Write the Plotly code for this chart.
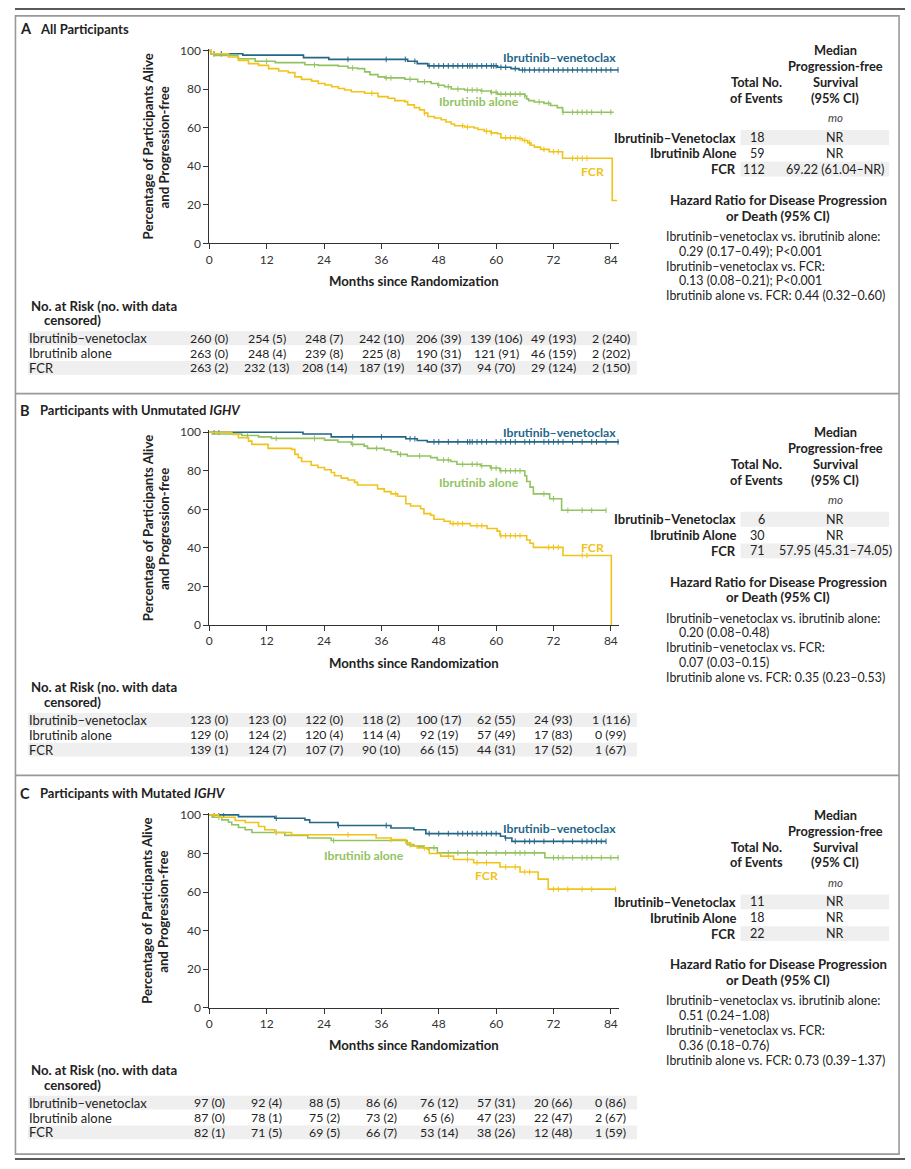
import numpy as np
import plotly.graph_objects as go

W, H = 911, 1169
FONT = "Lato"
DARK = "#222222"
C_IV = "#246687"
C_I = "#92c35f"
C_F = "#f1c31a"
BAND = "#efefef"

# ---------------- data ----------------
months_ticks = [0, 12, 24, 36, 48, 60, 72, 84]
y_ticks = [0, 20, 40, 60, 80, 100]
arm_names_risk = ["Ibrutinib–venetoclax", "Ibrutinib alone", "FCR"]
arm_names_tab = ["Ibrutinib–Venetoclax", "Ibrutinib Alone", "FCR"]

# Panel A: all participants
A_IV_t = [0, 0.4, 7, 19.7, 25, 41.5, 43.5, 45.7, 60.3, 63.1, 64.8, 85.6]
A_IV_s = [100, 98.3, 97.6, 96.3, 95.4, 94.4, 93.2, 92.0, 91.3, 90.6, 89.9, 89.9]
A_I_t = [0, 0.4, 1.3, 6, 9.6, 13.8, 20, 22.8, 27, 29, 31, 32.5, 33.6, 35.3, 36.7, 40.9, 43.6, 46.4,
         47.8, 49.2, 50.6, 53.4, 56.8, 58.9, 60.3, 66.0, 66.4, 66.8, 68, 70, 71.4, 72.8, 73.9, 84.6]
A_I_s = [100, 98.3, 97.4, 95.7, 94.4, 93.7, 92.6, 92.3, 91.8, 90.9, 90.6, 88.9, 87.5, 86.3, 85.8, 85.1,
         83.8, 82.9, 82.0, 81.2, 80.0, 79.5, 79.0, 78.3, 77.4, 76.4, 74.9, 74.0, 73.3, 72.6, 71.5, 70.4,
         68.0, 68.0]
A_F_t = [0, 0.4, 4, 6.1, 8.2, 10.3, 12.4, 14.5, 16.5, 17.9, 19.3, 21.4, 22.8, 24.2, 25.6, 27, 28.3,
         29.7, 32.5, 35.3, 37.4, 38.8, 40.9, 41.5, 42.9, 44, 45, 45.7, 47.1, 48.5, 49.5, 50.6, 51.3, 53.4,
         55.4, 56.2, 57.5, 58.9, 60.3, 61, 64.5, 65.5, 66.6, 67.3, 68, 69.3, 71.1, 73.9, 84.3, 85.3]
A_F_s = [100, 98.3, 96.6, 94.9, 93.2, 92.3, 90.6, 89.4, 88.5, 86.3, 85.0, 84.1, 82.9, 82.1, 81.2, 80.3,
         79.5, 78.6, 77.8, 76.1, 75.2, 74.0, 73.5, 71.8, 70.4, 69.2, 67.5, 65.8, 65.0, 64.1, 62.9, 61.9,
         61.0, 60.3, 59.8, 59.0, 58.1, 57.3, 56.8, 54.7, 54.4, 53.3, 52.1, 50.9, 49.9, 48.7, 47.5, 44.1,
         22.2, 22.2]
A_IV_cens = [1, 2.5, 29, 37, 41, 43, 46, 47, 48, 49, 50, 51, 52, 53, 54, 54.5, 55, 56, 57, 58, 59, 59.5,
             60, 61, 62, 64, 65.5, 66, 67, 68, 69, 70, 71, 72, 73, 74, 75, 76, 77, 78, 79, 80, 81, 82, 83,
             84, 85.5]
A_I_cens = [1, 12, 22, 30, 37, 38, 42, 45, 48, 50, 52, 54, 55, 56, 57, 59, 60, 61, 62, 63, 64, 65, 66,
            69, 71, 74, 76, 77, 78, 79, 80, 82, 84]
A_F_cens = [34, 45, 53, 54, 58, 59, 62, 63, 64, 65, 66, 67, 70, 72, 73, 76, 77, 78, 79]

# Panel B: unmutated IGHV
B_IV_t = [0, 19.6, 25.5, 41.1, 43.5, 45.6, 85.8]
B_IV_s = [100, 99.1, 97.6, 96.6, 95.7, 95.0, 95.0]
B_I_t = [0, 0.6, 6.8, 10.3, 13, 24.1, 26.9, 29.7, 32.4, 33.1, 36.6, 38, 39.4, 41.4, 46.3, 47.7, 50.5,
         51.8, 56.7, 58.8, 60.8, 66.0, 66.4, 67.1, 67.8, 71.2, 73.7, 83.0]
B_I_s = [100, 99.1, 98.3, 97.6, 96.8, 95.9, 94.9, 93.7, 92.8, 91.6, 90.8, 89.9, 88.5, 87.7, 86.8, 85.6,
         84.8, 83.4, 82.6, 81.4, 80.0, 77.4, 74.4, 71.5, 68.0, 65.5, 59.5, 59.5]
B_F_t = [0, 4.7, 6.1, 8.2, 8.9, 12.3, 17.2, 17.9, 18.6, 19.3, 21.3, 22.7, 24.1, 25.5, 26.2, 27.6, 29,
         30.4, 31, 35.2, 36.6, 38, 39.4, 41.1, 42.1, 44.2, 44.9, 46.3, 47, 49.1, 50.4, 54.6, 58.1, 60.2,
         60.8, 66.4, 67.1, 67.8, 74, 84.1]
B_F_s = [100, 98.8, 97.1, 95.4, 93.7, 91.6, 91.1, 88.5, 86.8, 84.8, 82.9, 81.7, 80.5, 79.1, 77.4, 76.2,
         75.2, 74.0, 72.6, 70.6, 69.2, 68.0, 66.8, 62.9, 61.7, 60.3, 57.8, 56.9, 54.9, 53.8, 52.6, 51.5,
         50.1, 48.7, 46.3, 44.1, 42.4, 40.3, 36.1, 0]
B_IV_cens = [1, 2, 30, 36, 42, 43, 47, 48, 50, 52, 54, 54.5, 55, 56, 57, 58, 60, 61, 62, 63, 64, 66, 67,
             68, 70, 71, 72, 73, 74, 76, 78, 80, 81, 83, 85.5]
B_I_cens = [8, 14, 22, 30, 35, 40, 44, 49, 50, 53, 55, 56, 57, 59, 60, 61, 62, 63, 64, 65, 70, 72, 75,
            78, 80, 83]
B_F_cens = [39, 51, 52, 53, 56, 57, 61, 62, 63, 64, 65, 71, 72, 73, 78, 79]

# Panel C: mutated IGHV
C_IV_t = [0, 6.1, 13.7, 20, 21, 26.9, 38, 42.8, 45.3, 60.9, 61.9, 63.3, 83.0]
C_IV_s = [100, 99.1, 98.3, 97.4, 96.1, 94.5, 93.2, 92.3, 90.3, 88.9, 88.0, 86.3, 86.3]
C_I_t = [0, 0.6, 2.6, 4, 4.7, 6.1, 7.5, 8.9, 15.8, 20.6, 25.5, 41.4, 42.8, 44.9, 47.7, 70.2, 85.8]
C_I_s = [100, 98.8, 97.4, 96.2, 94.9, 93.5, 92.3, 90.9, 89.4, 88.0, 86.7, 84.6, 83.8, 82.9, 80.3, 77.8,
         77.8]
C_F_t = [0, 1.9, 5.4, 7.5, 10.3, 11.6, 13.7, 17.2, 34.9, 38, 41.1, 42.1, 43.5, 45.6, 46, 48.4, 51.1,
         55.3, 60.8, 65, 68.8, 70.9, 85.1]
C_F_s = [100, 98.8, 97.1, 96.1, 94.0, 92.3, 90.9, 89.7, 88.0, 87.2, 85.5, 83.8, 82.9, 82.1, 80.0, 78.6,
         76.9, 75.2, 73.0, 70.4, 66.7, 61.5, 61.5]
C_IV_cens = [1, 2, 3, 14, 27, 37, 46, 48, 50, 52, 53, 54, 55, 56, 57, 58, 59, 60, 62, 64, 66, 67, 68,
             70, 72, 74, 76, 78, 79, 80, 81, 82, 83]
C_I_cens = [2, 14, 26, 42, 47, 50, 52, 54, 56, 58, 60, 62, 64, 65, 66, 68, 72, 73, 74, 76, 78, 79, 80,
            82, 84, 85.5]
C_F_cens = [1, 29, 38, 45, 50, 54, 56, 58, 62, 64, 66, 67, 72, 73, 75, 78, 80, 85]

# numbers at risk / censored
A_risk = [[260, 254, 248, 242, 206, 139, 49, 2],
          [263, 248, 239, 225, 190, 121, 46, 2],
          [263, 232, 208, 187, 140, 94, 29, 2]]
A_cens_n = [[0, 5, 7, 10, 39, 106, 193, 240],
            [0, 4, 8, 8, 31, 91, 159, 202],
            [2, 13, 14, 19, 37, 70, 124, 150]]
B_risk = [[123, 123, 122, 118, 100, 62, 24, 1],
          [129, 124, 120, 114, 92, 57, 17, 0],
          [139, 124, 107, 90, 66, 44, 17, 1]]
B_cens_n = [[0, 0, 0, 2, 17, 55, 93, 116],
            [0, 2, 4, 4, 19, 49, 83, 99],
            [1, 7, 7, 10, 15, 31, 52, 67]]
C_risk = [[97, 92, 88, 86, 76, 57, 20, 0],
          [87, 78, 75, 73, 65, 47, 22, 2],
          [82, 71, 69, 66, 53, 38, 12, 1]]
C_cens_n = [[0, 4, 5, 6, 12, 31, 66, 86],
            [0, 1, 2, 2, 6, 23, 47, 67],
            [1, 5, 5, 7, 14, 26, 48, 59]]

A_events = [18, 59, 112]
A_median = ["NR", "NR", "69.22 (61.04–NR)"]
B_events = [6, 30, 71]
B_median = ["NR", "NR", "57.95 (45.31–74.05)"]
C_events = [11, 18, 22]
C_median = ["NR", "NR", "NR"]

A_hr = ["Ibrutinib–venetoclax vs. ibrutinib alone:", "0.29 (0.17–0.49); P&lt;0.001",
        "Ibrutinib–venetoclax vs. FCR:", "0.13 (0.08–0.21); P&lt;0.001",
        "Ibrutinib alone vs. FCR: 0.44 (0.32–0.60)"]
B_hr = ["Ibrutinib–venetoclax vs. ibrutinib alone:", "0.20 (0.08–0.48)",
        "Ibrutinib–venetoclax vs. FCR:", "0.07 (0.03–0.15)",
        "Ibrutinib alone vs. FCR: 0.35 (0.23–0.53)"]
C_hr = ["Ibrutinib–venetoclax vs. ibrutinib alone:", "0.51 (0.24–1.08)",
        "Ibrutinib–venetoclax vs. FCR:", "0.36 (0.18–0.76)",
        "Ibrutinib alone vs. FCR: 0.73 (0.39–1.37)"]

titles = ["All Participants", "Participants with Unmutated <i>IGHV</i>",
          "Participants with Mutated <i>IGHV</i>"]
letters = ["A", "B", "C"]

panels = [
    dict(curves=[(A_IV_t, A_IV_s, A_IV_cens), (A_I_t, A_I_s, A_I_cens), (A_F_t, A_F_s, A_F_cens)],
         risk=A_risk, cens=A_cens_n, events=A_events, median=A_median, hr=A_hr,
         labels=[(503, 52), (438, 97), (581, 167)]),
    dict(curves=[(B_IV_t, B_IV_s, B_IV_cens), (B_I_t, B_I_s, B_I_cens), (B_F_t, B_F_s, B_F_cens)],
         risk=B_risk, cens=B_cens_n, events=B_events, median=B_median, hr=B_hr,
         labels=[(503, 431), (438, 482), (581, 548)]),
    dict(curves=[(C_IV_t, C_IV_s, C_IV_cens), (C_I_t, C_I_s, C_I_cens), (C_F_t, C_F_s, C_F_cens)],
         risk=C_risk, cens=C_cens_n, events=C_events, median=C_median, hr=C_hr,
         labels=[(503, 832), (323, 859), (475, 879)]),
]
offsets = [0, 386, 773]
colors = [C_IV, C_I, C_F]
curve_labels = ["Ibrutinib–venetoclax", "Ibrutinib alone", "FCR"]

# ---------------- helpers ----------------
def px(x):
    return x / W

def py(y):
    return 1 - y / H

annotations = []
shapes = []

def ann(x, y, text, size=12, color=DARK, xanchor="left", yanchor="middle", angle=0, xref="paper"):
    if xanchor == "left" and xref == "paper":
        x = x - 2
    annotations.append(dict(
        x=px(x) if xref == "paper" else x, y=py(y), xref=xref, yref="paper", text=text,
        showarrow=False, xanchor=xanchor, yanchor=yanchor, textangle=angle,
        font=dict(family=FONT, size=size, color=color), borderpad=0, borderwidth=0))

def hline(x0, x1, y, color, width):
    shapes.append(dict(type="line", xref="paper", yref="paper", x0=px(x0), x1=px(x1),
                       y0=py(y), y1=py(y), line=dict(color=color, width=width)))

def band(x0, x1, y0, y1):
    shapes.append(dict(type="rect", xref="paper", yref="paper", x0=px(x0), x1=px(x1),
                       y0=py(y1), y1=py(y0), fillcolor=BAND, line=dict(width=0), layer="below"))

fig = go.Figure()
layout_axes = {}

X0, X1 = 207, 618
XR = [0, 85.7]
YR = [0, 101]

for i, p in enumerate(panels):
    off = offsets[i]
    top = 45 + off
    bot = 240 + off
    top_ext = top - (bot - top) * 0.01
    sfx = "" if i == 0 else str(i + 1)
    xname, yname = "x" + sfx, "y" + sfx

    axis_common = dict(showline=True, linecolor="#333", linewidth=1, ticks="outside", ticklen=5,
                       tickwidth=1, tickcolor="#333", showgrid=False, zeroline=False,
                       tickfont=dict(family=FONT, size=12, color="#333"))
    layout_axes["xaxis" + sfx] = dict(domain=[px(X0), px(X1)], range=XR, anchor=yname,
                                      tickvals=months_ticks, **axis_common)
    layout_axes["yaxis" + sfx] = dict(domain=[py(bot), py(top_ext)], range=YR, anchor=xname,
                                      tickvals=y_ticks, **axis_common)

    for (t, s, cens), col in zip(p["curves"], colors):
        fig.add_trace(go.Scatter(x=t, y=s, mode="lines", line=dict(color=col, width=1.6, shape="hv"),
                                 xaxis=xname, yaxis=yname, showlegend=False, hoverinfo="skip"))
        ta = np.array(t)
        sa = np.array(s)
        idx = np.searchsorted(ta, np.array(cens), side="right") - 1
        cy = sa[np.clip(idx, 0, len(sa) - 1)]
        fig.add_trace(go.Scatter(x=cens, y=cy, mode="markers",
                                 marker=dict(symbol="line-ns-open", size=4, color=col,
                                             line=dict(width=1, color=col)),
                                 xaxis=xname, yaxis=yname, showlegend=False, hoverinfo="skip"))

    # curve labels
    for (lx, ly), col, lab in zip(p["labels"], colors, curve_labels):
        ann(lx + 1, ly, "<b>%s</b>" % lab, size=12.2, color=col)

    # panel title
    ann(19, 23 + off, "<b>%s</b>" % letters[i], size=14.5)
    ann(39, 23 + off, "<b>%s</b>" % titles[i], size=13)

    # axis titles
    ann((X0 + X1) / 2, 278 + off, "<b>Months since Randomization</b>", size=13.2, xanchor="center")
    ann(145, 142.5 + off, "<b>Percentage of Participants Alive</b>", size=13.2, xanchor="center", angle=-90)
    ann(161, 142.5 + off, "<b>and Progression-free</b>", size=13.2, xanchor="center", angle=-90)

    # right table headers
    for k, line in enumerate(["Median", "Progression-free", "Survival", "(95% CI)"]):
        ann(835, 45 + 16 * k + off, "<b>%s</b>" % line, size=12.8, xanchor="center")
    ann(756, 77 + off, "<b>Total No.</b>", size=12.8, xanchor="center")
    ann(756, 93 + off, "<b>of Events</b>", size=12.8, xanchor="center")
    ann(835, 113 + off, "<i>mo</i>", size=11.5, xanchor="center", color="#444")
    band(740, 889, 125.5 + off, 140.5 + off)
    band(740, 889, 157.5 + off, 172.5 + off)
    for r in range(3):
        yy = 133 + 16 * r + off
        ann(735, yy, "<b>%s</b>" % arm_names_tab[r], size=13, xanchor="right")
        ann(765, yy, str(p["events"][r]), size=12.5, xanchor="right")
        ann(835, yy, p["median"][r], size=12.5, xanchor="center")

    ann(778, 196 + off, "<b>Hazard Ratio for Disease Progression</b>", size=13.2, xanchor="center")
    ann(778, 212 + off, "<b>or Death (95% CI)</b>", size=13.2, xanchor="center")
    for k, line in enumerate(p["hr"]):
        xx = 680 if k in (1, 3) else 667
        ann(xx, 233 + 15 * k + off, line, size=12.4)

    # risk table
    ann(30, 303 + off, "<b>No. at Risk (no. with data</b>", size=13.2)
    ann(43, 318 + off, "<b>censored)</b>", size=13.2)
    band(25, 636, 329 + off, 343 + off)
    band(25, 636, 359 + off, 373 + off)
    for r in range(3):
        yy = 336 + 15 * r + off
        ann(28, yy, arm_names_risk[r], size=13)
        for m, n, c in zip(months_ticks, p["risk"][r], p["cens"][r]):
            ann(m, yy, "%d (%d)" % (n, c), size=12.3, xanchor="center", xref=xname)

# frame
hline(12, 905, 3, "#222", 1.5)
shapes.append(dict(type="rect", xref="paper", yref="paper", x0=px(12.5), x1=px(899),
                   y0=py(1161), y1=py(10), line=dict(color="#999", width=1.6), fillcolor="rgba(0,0,0,0)"))
hline(12.5, 899, 392, "#999", 1.6)
hline(12.5, 899, 778, "#999", 1.6)
hline(12, 905, 1166, "#222", 1.5)

fig.update_layout(width=W, height=H, margin=dict(l=0, r=0, t=0, b=0), paper_bgcolor="white",
                  plot_bgcolor="white", showlegend=False, annotations=annotations, shapes=shapes,
                  font=dict(family=FONT, color=DARK), **layout_axes)

fig.write_html("out.html", config={"displayModeBar": False},
               post_script="document.body.style.margin='0px';document.body.style.overflow='hidden';")
